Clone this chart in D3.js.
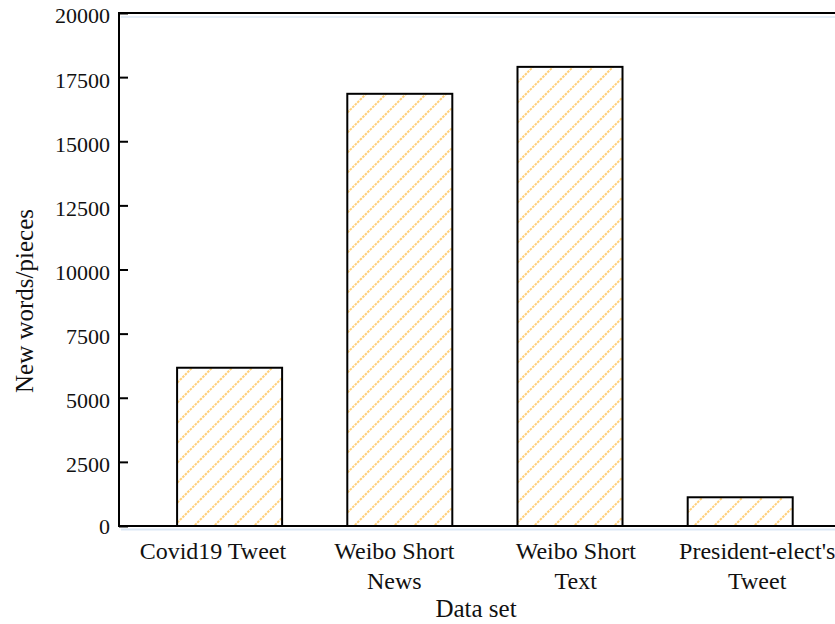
<!DOCTYPE html>
<html>
<head>
<meta charset="utf-8">
<script src="https://cdn.jsdelivr.net/npm/d3@7"></script>
<style>
  html, body { margin: 0; padding: 0; background: #fff; }
  svg { display: block; }
  text { font-family: "Liberation Serif", "Times New Roman", serif; fill: #111; }
</style>
</head>
<body>
<div id="chart"></div>
<script>
const categories = ["Covid19 Tweet", "Weibo Short News", "Weibo Short Text", "President-elect's Tweet"];
const categoryLines = [["Covid19 Tweet"], ["Weibo Short", "News"], ["Weibo Short", "Text"], ["President-elect's", "Tweet"]];
const values = [6170, 16850, 17900, 1120];
const yTicks = [0, 2500, 5000, 7500, 10000, 12500, 15000, 17500, 20000];
const xTitle = "Data set";
const yTitle = "New words/pieces";

(function () {
const W = 835, H = 624;
const mLeft = 119, mTop = 13, mBottom = 526, mRight = 835;

const svg = d3.select("#chart").append("svg").attr("width", W).attr("height", H);

const defs = svg.append("defs");
const pat = defs.append("pattern").attr("id", "hatch")
  .attr("patternUnits", "userSpaceOnUse").attr("width", 20).attr("height", 20);
pat.append("rect").attr("width", 20).attr("height", 20).attr("fill", "#fff");
pat.append("path").attr("d", "M-5,5 L5,-5 M0,20 L20,0 M15,25 L25,15")
  .attr("stroke", "#ffd07a").attr("stroke-width", 2).attr("stroke-dasharray", "2.5,1")
  .attr("fill", "none");

const y = d3.scaleLinear().domain([0, 20000]).range([mBottom, mTop]);
const x = d3.scaleBand().domain(categories).range([144.5, 825.3])
  .paddingInner(0.383).paddingOuter(0.1915);
const xl = d3.scalePoint().domain(categories).range([212.9, 757.2]);

// light blue shadow lines
svg.append("line").attr("x1", mLeft + 2).attr("x2", mRight).attr("y1", mTop + 4).attr("y2", mTop + 4)
  .attr("stroke", "#e4edf7").attr("stroke-width", 2);
svg.append("line").attr("x1", mLeft + 2).attr("x2", mRight).attr("y1", mBottom + 3.5).attr("y2", mBottom + 3.5)
  .attr("stroke", "#dbe7f5").attr("stroke-width", 2);

// bars
svg.append("g").selectAll("rect").data(categories).join("rect")
  .attr("x", d => x(d))
  .attr("y", (d, i) => y(values[i]))
  .attr("width", x.bandwidth())
  .attr("height", (d, i) => y(0) - y(values[i]))
  .attr("fill", "url(#hatch)")
  .attr("stroke", "#000").attr("stroke-width", 2);

// top frame line
svg.append("line").attr("x1", mLeft - 1).attr("x2", mRight).attr("y1", mTop).attr("y2", mTop)
  .attr("stroke", "#000").attr("stroke-width", 2);
// bottom axis line
svg.append("line").attr("x1", mLeft - 1).attr("x2", mRight).attr("y1", mBottom).attr("y2", mBottom)
  .attr("stroke", "#000").attr("stroke-width", 2);

// y axis
const yAxis = d3.axisLeft(y).tickValues(yTicks).tickSize(-9).tickPadding(9).tickFormat(d3.format("d"));
const gy = svg.append("g").attr("transform", `translate(${mLeft},0)`).call(yAxis);
gy.select(".domain").attr("stroke", "#000").attr("stroke-width", 2).attr("d", `M0,${mTop - 1}V${mBottom + 1}`);
gy.selectAll(".tick line").attr("stroke", "#000").attr("stroke-width", 2);
gy.selectAll(".tick text").attr("font-size", 22).attr("font-family", "Liberation Serif")
  .attr("fill", "#111").attr("dy", d => d === 0 ? "0.32em" : "0.45em");

// category labels
const gl = svg.append("g");
categories.forEach((c, i) => {
  const t = gl.append("text").attr("text-anchor", "middle").attr("font-size", 24)
    .attr("x", xl(c));
  categoryLines[i].forEach((ln, j) => {
    t.append("tspan").attr("x", xl(c)).attr("y", 559 + j * 30).text(ln);
  });
});

// axis titles
svg.append("text").attr("x", 476).attr("y", 617).attr("text-anchor", "middle")
  .attr("font-size", 25).text(xTitle);
svg.append("text").attr("transform", "translate(33,301) rotate(-90)")
  .attr("text-anchor", "middle").attr("font-size", 25).text(yTitle);
})();
</script>
</body>
</html>
